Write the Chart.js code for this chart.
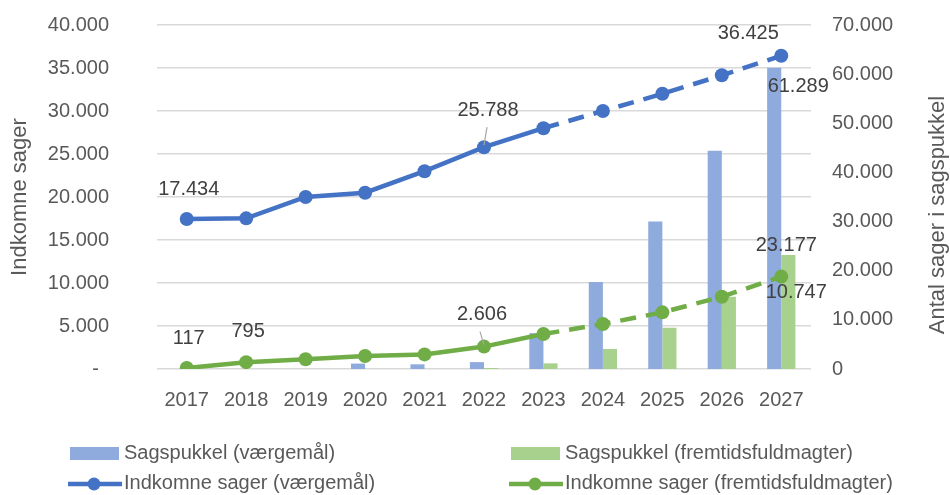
<!DOCTYPE html>
<html>
<head>
<meta charset="utf-8">
<script src="https://cdn.jsdelivr.net/npm/chart.js@4.4.0/dist/chart.umd.min.js"></script>
<style>
html, body { margin: 0; padding: 0; background: #fff; }
#wrap { width: 950px; height: 495px; }
</style>
</head>
<body>
<div id="wrap"><canvas id="chart" width="950" height="495"></canvas></div>
<script>
var years = ['2017', '2018', '2019', '2020', '2021', '2022', '2023', '2024', '2025', '2026', '2027'];

// indkomne sager (venstre akse)
var indkomneVaergemaal = [17434, 17520, 20000, 20500, 23000, 25788, 28000, 30000, 32000, 34150, 36425];
var indkomneFremtid = [117, 795, 1130, 1510, 1700, 2606, 4070, 5230, 6590, 8400, 10747];

// sagspukkel (højre akse)
var pukkelVaergemaal = [0, 0, 0, 1100, 950, 1400, 7300, 17700, 30000, 44400, 61289];
var pukkelFremtid = [0, 0, 0, 0, 0, 200, 1150, 4070, 8400, 14700, 23177];

var labelsLeft = ['Indkomne sager (værgemål)', 'Indkomne sager (fremtidsfuldmagter)'];
var labelsBar = ['Sagspukkel (værgemål)', 'Sagspukkel (fremtidsfuldmagter)'];

var FONT = "'Liberation Sans', Arial, sans-serif";
var firstForecast = 6; // dashed from 2023 onwards

function fmt(n) {
    return String(Math.round(n)).replace(/\B(?=(\d{3})+(?!\d))/g, '.');
}

// which points get a value label, and where (offset from the point)
var pointLabels = [
    {ds: 0, i: 0, dx: 2, dy: -30},
    {ds: 0, i: 5, dx: 4, dy: -37, leader: [3, -20, 0, -2]},
    {ds: 0, i: 10, dx: -33, dy: -22},
    {ds: 1, i: 0, dx: 2, dy: -30},
    {ds: 1, i: 1, dx: 2, dy: -31},
    {ds: 1, i: 5, dx: -2, dy: -32, leader: [-4, -15, 0, -2]},
    {ds: 1, i: 10, dx: 15, dy: 16},
    {ds: 2, i: 10, dx: 24, dy: 19},
    {ds: 3, i: 10, dx: -2, dy: -10}
];

var dataLabelPlugin = {
    id: 'dataLabelPlugin',
    afterDatasetsDraw: function(chart) {
        var ctx = chart.ctx;
        ctx.save();
        ctx.font = '20px ' + FONT;
        ctx.textAlign = 'center';
        ctx.textBaseline = 'middle';
        pointLabels.forEach(function(p) {
            var el = chart.getDatasetMeta(p.ds).data[p.i];
            var v = chart.data.datasets[p.ds].data[p.i];
            if (p.leader) {
                ctx.strokeStyle = '#a6a6a6';
                ctx.lineWidth = 1.2;
                ctx.beginPath();
                ctx.moveTo(el.x + p.leader[0], el.y + p.leader[1]);
                ctx.lineTo(el.x + p.leader[2], el.y + p.leader[3]);
                ctx.stroke();
            }
            ctx.fillStyle = '#404040';
            ctx.fillText(fmt(v), el.x + p.dx, el.y + p.dy);
        });
        ctx.restore();
    }
};

var extrasPlugin = {
    id: 'extrasPlugin',
    afterDraw: function(chart) {
        var ctx = chart.ctx;
        var ds = chart.data.datasets;
        ctx.save();
        // right axis title, reading upwards
        ctx.translate(938, 215);
        ctx.rotate(-Math.PI / 2);
        ctx.font = '22px ' + FONT;
        ctx.fillStyle = '#595959';
        ctx.textAlign = 'center';
        ctx.textBaseline = 'middle';
        ctx.fillText('Antal sager i sagspukkel', 0, 0);
        ctx.restore();

        // legend
        ctx.save();
        ctx.font = '20px ' + FONT;
        ctx.textBaseline = 'middle';
        ctx.textAlign = 'left';
        var cols = [70, 511];
        var rowBar = 453, rowLine = 483;
        [2, 3].forEach(function(d, k) {
            var x = cols[k];
            ctx.fillStyle = ds[d].backgroundColor;
            ctx.fillRect(x, rowBar - 6, 49, 13);
            ctx.fillStyle = '#595959';
            ctx.fillText(ds[d].label, x + 54, rowBar);
        });
        [0, 1].forEach(function(d, k) {
            var x = cols[k];
            ctx.strokeStyle = ds[d].borderColor;
            ctx.lineWidth = 4.5;
            ctx.beginPath();
            ctx.moveTo(x - 2, rowLine + 1);
            ctx.lineTo(x + 52, rowLine + 1);
            ctx.stroke();
            ctx.fillStyle = ds[d].borderColor;
            ctx.beginPath();
            ctx.arc(x + 24, rowLine + 1, 6.5, 0, Math.PI * 2);
            ctx.fill();
            ctx.fillStyle = '#595959';
            ctx.fillText(ds[d].label, x + 54, rowLine);
        });
        ctx.restore();
    }
};

function dashAfter(ctx) {
    return ctx.p0DataIndex >= firstForecast ? [16, 10] : undefined;
}

var ctx = document.getElementById('chart').getContext('2d');
var chart1 = new Chart(ctx, {
    type: 'bar',
    data: {
        labels: years,
        datasets: [{
            type: 'line',
            label: labelsLeft[0],
            data: indkomneVaergemaal,
            yAxisID: 'y',
            borderColor: '#4472c4',
            backgroundColor: '#4472c4',
            borderWidth: 4.5,
            pointRadius: 7,
            pointBorderWidth: 0,
            pointBackgroundColor: '#4472c4',
            segment: {borderDash: dashAfter}
        }, {
            type: 'line',
            label: labelsLeft[1],
            data: indkomneFremtid,
            yAxisID: 'y',
            borderColor: '#70ad47',
            backgroundColor: '#70ad47',
            borderWidth: 4.5,
            pointRadius: 7,
            pointBorderWidth: 0,
            pointBackgroundColor: '#70ad47',
            segment: {borderDash: dashAfter}
        }, {
            label: labelsBar[0],
            data: pukkelVaergemaal,
            yAxisID: 'y1',
            backgroundColor: '#8faadc',
            barPercentage: 1,
            categoryPercentage: 0.475
        }, {
            label: labelsBar[1],
            data: pukkelFremtid,
            yAxisID: 'y1',
            backgroundColor: '#a9d18e',
            barPercentage: 1,
            categoryPercentage: 0.475
        }]
    },
    options: {
        responsive: false,
        animation: false,
        devicePixelRatio: 1,
        layout: {padding: {top: 25, left: 0, right: 0, bottom: 0}},
        plugins: {
            legend: {display: false},
            tooltip: {enabled: false}
        },
        scales: {
            x: {
                grid: {display: false, drawTicks: false},
                border: {display: false},
                ticks: {color: '#595959', font: {size: 20, family: FONT}, padding: 19, maxRotation: 0},
                afterFit: function(s) { s.height = 126; }
            },
            y: {
                position: 'left',
                min: 0,
                max: 40000,
                grid: {color: '#d9d9d9', lineWidth: 1.5, drawTicks: false},
                border: {display: false},
                ticks: {
                    stepSize: 5000,
                    color: '#595959',
                    font: {size: 20, family: FONT},
                    padding: 48,
                    callback: function(v) { return v === 0 ? '-\u2002' : fmt(v); }
                },
                title: {
                    display: true,
                    text: 'Indkomne sager',
                    color: '#595959',
                    font: {size: 22, family: FONT},
                    padding: {top: 7, bottom: 0}
                },
                afterFit: function(s) { s.width = 157; s.paddingTop = 0; s.paddingBottom = 0; }
            },
            y1: {
                position: 'right',
                min: 0,
                max: 70000,
                grid: {display: false, drawTicks: false},
                border: {display: false},
                ticks: {
                    stepSize: 10000,
                    color: '#595959',
                    font: {size: 20, family: FONT},
                    padding: 21,
                    callback: function(v) { return fmt(v); }
                },
                afterFit: function(s) { s.width = 139; s.paddingTop = 0; s.paddingBottom = 0; }
            }
        }
    },
    plugins: [dataLabelPlugin, extrasPlugin]
});
</script>
</body>
</html>
